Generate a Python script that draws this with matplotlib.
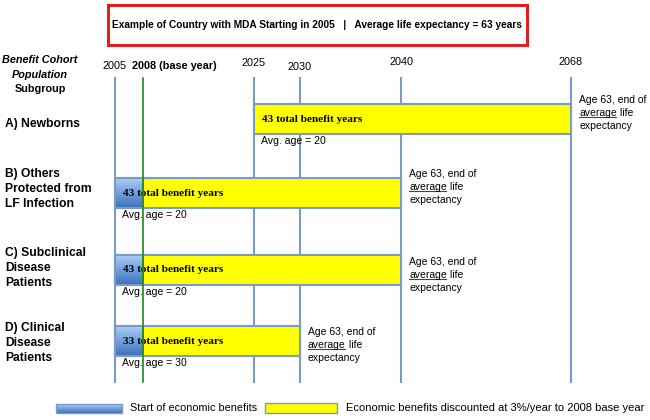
import numpy as np
import matplotlib
matplotlib.use('Agg')
import matplotlib.pyplot as plt
from matplotlib.patches import Rectangle

# Data
years = [2005, 2008, 2025, 2030, 2040, 2068]
year_labels = ["2005", "2008 (base year)", "2025", "2030", "2040", "2068"]
groups = ["A) Newborns",
          "B) Others\nProtected from\nLF Infection",
          "C) Subclinical\nDisease\nPatients",
          "D) Clinical\nDisease\nPatients"]
start_year = [2025, 2005, 2005, 2005]
end_year = [2068, 2040, 2040, 2030]
benefit_years = [43, 43, 43, 33]
avg_age = [20, 20, 20, 30]
life_expectancy = 63
base_year = 2008
discount = 3

# Layout (schematic, pixel-like coordinates)
year_x = [115, 143, 254, 300, 401, 571]
year_label_y = [66, 66, 63, 67, 62, 62]
row_y = [119, 193, 270, 341]
label_y = [124, 189, 268, 343]
annot_y = [100, 174, 262, 332]
bar_h = 30
line_top, line_bottom = 78, 382

edge = '#7b9bc4'
yellow = '#ffff00'

plt.rcParams['font.family'] = ['Liberation Sans', 'DejaVu Sans']

fig = plt.figure(figsize=(6.5, 4.2), dpi=100)
ax = fig.add_axes([0, 0, 1, 1])
ax.set_xlim(0, 650)
ax.set_ylim(420, 0)
ax.axis('off')


def xpos(year):
    return np.interp(year, years, year_x)


# Title box
ax.add_patch(Rectangle((108, 5), 419, 40, fill=False, edgecolor='#e0201e', lw=2.2))
ax.text(317, 25, "Example of Country with MDA Starting in 2005   |   "
        f"Average life expectancy = {life_expectancy} years",
        ha='center', va='center', fontsize=7.3, fontweight='bold')

# Column header
ax.text(40, 60, "Benefit Cohort", ha='center', va='center',
        fontsize=7.8, fontweight='bold', style='italic')
ax.text(40, 75, "Population", ha='center', va='center',
        fontsize=7.8, fontweight='bold', style='italic')
ax.text(40, 89, "Subgroup", ha='center', va='center', fontsize=7.8, fontweight='bold')

# Year labels
for yr, lab, x, ly in zip(years, year_labels, year_x, year_label_y):
    if yr == base_year:
        ax.text(x - 11, ly, lab, ha='left', va='center', fontsize=7.8, fontweight='bold')
    else:
        ax.text(x, ly, lab, ha='center', va='center', fontsize=7.8)

# Vertical year lines
for yr, x in zip(years, year_x):
    if yr == base_year:
        continue
    ax.plot([x, x], [line_top, line_bottom], color=edge, lw=1.5, zorder=1)

# Gradient for start block
grad = np.linspace(0, 1, 50).reshape(-1, 1)
cmap_blue = matplotlib.colors.LinearSegmentedColormap.from_list('b', ['#a9cdf5', '#3c72bd'])

underline_texts = []
for i, g in enumerate(groups):
    y = row_y[i]
    x0 = xpos(start_year[i])
    x1 = xpos(end_year[i])
    # row label
    ax.text(5, label_y[i], g, ha='left', va='center', fontsize=8.7,
            fontweight='bold', linespacing=1.3)
    # yellow bar
    ax.add_patch(Rectangle((x0, y - bar_h / 2), x1 - x0, bar_h, facecolor=yellow,
                           edgecolor=edge, lw=1.5, zorder=2))
    # start of benefits block
    if start_year[i] < base_year:
        xb = xpos(base_year)
        ax.imshow(grad, cmap=cmap_blue, aspect='auto', zorder=3,
                  extent=(x0, xb, y + bar_h / 2, y - bar_h / 2))
        ax.add_patch(Rectangle((x0, y - bar_h / 2), xb - x0, bar_h, fill=False,
                               edgecolor=edge, lw=1.5, zorder=4))
    ax.text(x0 + 8, y, f"{benefit_years[i]} total benefit years", ha='left', va='center',
            fontsize=8.1, fontweight='bold', family='Liberation Serif', zorder=5)
    ax.text(x0 + 7, y + bar_h / 2 + 7, f"Avg. age = {avg_age[i]}", ha='left', va='center',
            fontsize=7.6, zorder=5)
    # end annotation
    ty = annot_y[i]
    ax.text(x1 + 8, ty, f"Age {life_expectancy}, end of", ha='left', va='center', fontsize=7.5)
    t = ax.text(x1 + 8, ty + 13, "average", ha='left', va='center', fontsize=7.5)
    underline_texts.append(t)
    ax.text(x1 + 8, ty + 26, "expectancy", ha='left', va='center', fontsize=7.5)

# Base year line (green)
ax.plot([xpos(base_year)] * 2, [line_top, line_bottom], color='#1a8a1a', lw=1.2, zorder=6)

# Add " life" after "average" and underline "average"
fig.canvas.draw()
renderer = fig.canvas.get_renderer()
inv = ax.transData.inverted()
for t in underline_texts:
    bb = t.get_window_extent(renderer)
    (xa, ya), (xb2, yb) = inv.transform([[bb.x0, bb.y0], [bb.x1, bb.y1]])
    ax.plot([xa, xb2 - 1], [ya - 0.5, ya - 0.5], color='#444444', lw=0.8)
    ax.text(xb2, t.get_position()[1], " life", ha='left', va='center', fontsize=7.5)

# Legend
ax.imshow(grad, cmap=cmap_blue, aspect='auto', extent=(56, 122, 413, 404))
ax.add_patch(Rectangle((56, 404), 66, 9, fill=False, edgecolor=edge, lw=1))
ax.text(130, 408, "Start of economic benefits", ha='left', va='center', fontsize=7.8)
ax.add_patch(Rectangle((265, 403), 72, 10, facecolor=yellow, edgecolor=edge, lw=1))
ax.text(346, 408, f"Economic benefits discounted at {discount}%/year to {base_year} base year",
        ha='left', va='center', fontsize=8.05)

ax.set_xlim(0, 650)
ax.set_ylim(420, 0)
fig.savefig("out.png", dpi=100)
